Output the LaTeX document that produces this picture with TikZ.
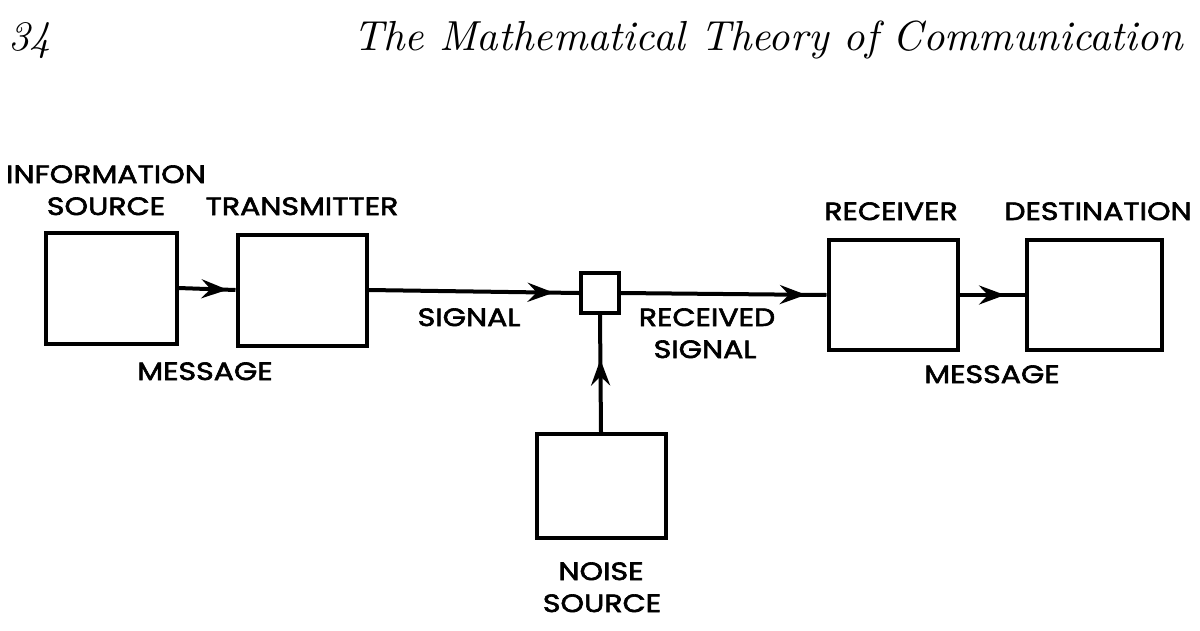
\documentclass[tikz,border=0pt]{standalone}
\usepackage{fontspec}
\usepackage{tikz}
\usetikzlibrary{arrows.meta,decorations.markings}

\newfontfamily\headfont{lmroman10-italic.otf}
\newfontfamily\lblfont{Poppins}[FakeBold=2.5, FakeStretch=1.2]

\tikzset{
    box/.style={draw, line width=4pt, inner sep=0pt},
    lbl/.style={font=\lblfont\fontsize{25}{28}\selectfont, inner sep=0pt, anchor=base},
    head/.style={font=\headfont\fontsize{42}{48}\selectfont, inner sep=0pt},
    flow/.style={line width=4pt, postaction={decorate},
        decoration={markings, mark=at position #1 with
            {\arrow{Stealth[length=26pt, width=19pt, inset=9pt]}}}}
}

\begin{document}
\begin{tikzpicture}[x=1pt, y=-1pt]
        \useasboundingbox (0,0) rectangle (1200,630);

        % Page header
        \node[head, anchor=base west] (page) at (8,50) {34};
        \node[head, anchor=base east] (title) at (1183,50)
            {The Mathematical Theory of Communication};

        % Boxes
        \node[box, minimum width=131pt, minimum height=111pt] (src) at (111,288) {};
        \node[box, minimum width=129pt, minimum height=111pt] (tx) at (302,290) {};
        \node[box, minimum width=38pt, minimum height=40pt] (mix) at (600,293) {};
        \node[box, minimum width=129pt, minimum height=110pt] (rx) at (893,295) {};
        \node[box, minimum width=135pt, minimum height=110pt] (dst) at (1094,295) {};
        \node[box, minimum width=129pt, minimum height=104pt] (noise) at (601,486) {};

        % Connectors
        \draw[flow=0.86] (src.east) -- (tx.west);
        \draw[flow=0.88] (tx.east) -- (mix.west);
        \draw[flow=0.90] (mix.east) -- (rx.west);
        \draw[flow=0.70] (rx.east) -- (dst.west);
        \draw[flow=0.62] (noise.north) -- (mix.south);

        % Labels
        \node[lbl] (srclbla) at (106,183) {INFORMATION};
        \node[lbl] (srclblb) at (106,215) {SOURCE};
        \node[lbl] (txlbl) at (302,215) {TRANSMITTER};
        \node[lbl] (msglbla) at (205,380) {MESSAGE};
        \node[lbl] (siglbl) at (469,326) {SIGNAL};
        \node[lbl] (rsiglbla) at (707,326) {RECEIVED};
        \node[lbl] (rsiglblb) at (705,358) {SIGNAL};
        \node[lbl] (rxlbl) at (891,220) {RECEIVER};
        \node[lbl] (dstlbl) at (1098,220) {DESTINATION};
        \node[lbl] (msglblb) at (992,383) {MESSAGE};
        \node[lbl] (noiselbla) at (601,580) {NOISE};
        \node[lbl] (noiselblb) at (602,612) {SOURCE};
\end{tikzpicture}
\end{document}
